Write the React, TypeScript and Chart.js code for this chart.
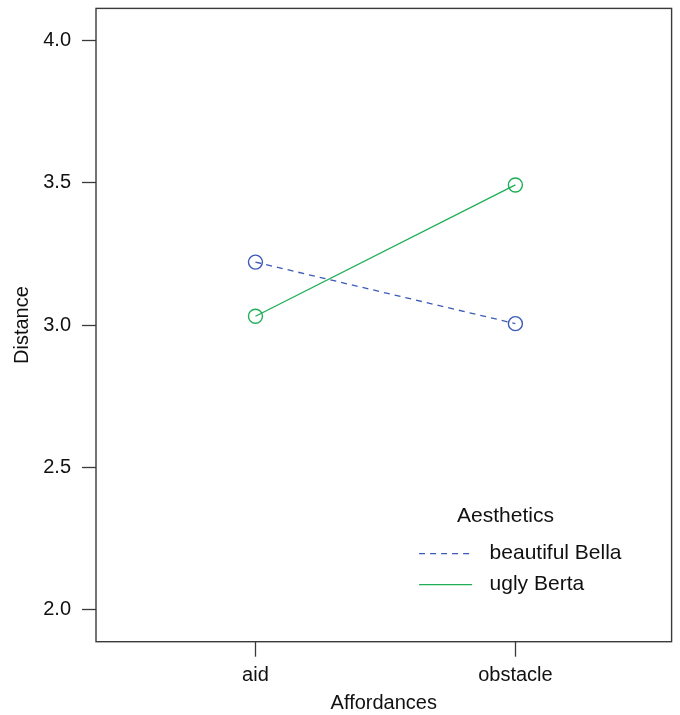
import React, { useEffect, useRef } from "react";
import { Chart, registerables } from "chart.js";

Chart.register(...registerables);

const categories = ["aid", "obstacle"];
const bellaValues = [3.221, 3.005];
const bertaValues = [3.031, 3.492];
const yTicks = [2.0, 2.5, 3.0, 3.5, 4.0];
const seriesNames = ["beautiful Bella", "ugly Berta"];
const legendTitle = "Aesthetics";

const FONT = "'Liberation Sans', Arial, Helvetica, sans-serif";
const BLUE = "#3A5BB8";
const GREEN = "#1EAE55";
const AXIS = "#3a3a3a";

const boxPlugin = {
  id: "boxAndLegend",
  afterDraw(chart: any) {
    const { ctx, chartArea } = chart;
    const { left, top, right, bottom } = chartArea;
    ctx.save();
    ctx.strokeStyle = AXIS;
    ctx.lineWidth = 1.4;
    ctx.strokeRect(left, top, right - left, bottom - top);

    // legend
    ctx.fillStyle = "#111";
    ctx.font = `21px ${FONT}`;
    ctx.textBaseline = "middle";
    ctx.textAlign = "left";
    ctx.fillText(legendTitle, right - 214.5, bottom - 125);
    chart.data.datasets.forEach((ds: any, i: number) => {
      const y = bottom - 88 + i * 31;
      ctx.beginPath();
      ctx.strokeStyle = ds.borderColor;
      ctx.lineWidth = ds.borderWidth;
      ctx.setLineDash(ds.borderDash || []);
      ctx.moveTo(right - 252.5, y);
      ctx.lineTo(right - 199.5, y);
      ctx.stroke();
      ctx.setLineDash([]);
      ctx.fillStyle = "#111";
      ctx.fillText(ds.label, right - 182, y);
    });
    ctx.restore();
  },
};

export default function App() {
  const ref = useRef<HTMLCanvasElement | null>(null);

  useEffect(() => {
    if (!ref.current) return;
    const mk = (vals: number[]) => vals.map((v, i) => ({ x: i + 1, y: v }));
    const chart = new Chart(ref.current, {
      type: "line",
      data: {
        datasets: [
          {
            label: seriesNames[0],
            data: mk(bellaValues),
            borderColor: BLUE,
            borderWidth: 1.3,
            borderDash: [6, 5],
            pointRadius: 7,
            pointBorderWidth: 1.4,
            pointBorderColor: BLUE,
            pointBackgroundColor: "rgba(0,0,0,0)",
            fill: false,
          },
          {
            label: seriesNames[1],
            data: mk(bertaValues),
            borderColor: GREEN,
            borderWidth: 1.3,
            pointRadius: 7,
            pointBorderWidth: 1.4,
            pointBorderColor: GREEN,
            pointBackgroundColor: "rgba(0,0,0,0)",
            fill: false,
          },
        ],
      },
      options: {
        animation: false,
        responsive: false,
        maintainAspectRatio: false,
        layout: { padding: { top: 6, right: 7.5, left: 0, bottom: 0 } },
        plugins: {
          legend: { display: false },
          tooltip: { enabled: false },
        },
        scales: {
          x: {
            type: "linear",
            min: 0.3865,
            max: 2.601,
            afterBuildTicks: (s: any) => {
              s.ticks = categories.map((_, i) => ({ value: i + 1 }));
            },
            afterFit: (s: any) => {
              s.height = 73.3;
              s.paddingLeft = 0;
              s.paddingRight = 0;
              s.paddingTop = 0;
              s.paddingBottom = 0;
            },
            ticks: {
              callback: (v: any) => categories[Math.round(v) - 1] ?? "",
              font: { family: FONT, size: 20 },
              color: "#111",
              padding: 7,
              maxRotation: 0,
              autoSkip: false,
            },
            grid: {
              drawOnChartArea: false,
              drawTicks: true,
              tickLength: 15,
              tickColor: AXIS,
              tickWidth: 1.3,
            },
            border: { display: false },
            title: {
              display: true,
              text: "Affordances",
              font: { family: FONT, size: 20 },
              color: "#111",
              padding: { top: 0, bottom: 0 },
            },
          },
          y: {
            type: "linear",
            min: 1.888,
            max: 4.112,
            afterBuildTicks: (s: any) => {
              s.ticks = yTicks.map((v) => ({ value: v }));
            },
            afterFit: (s: any) => {
              s.width = 96;
              s.paddingTop = 0;
              s.paddingBottom = 0;
              s.paddingLeft = 0;
              s.paddingRight = 0;
            },
            ticks: {
              callback: (v: any) => Number(v).toFixed(1),
              font: { family: FONT, size: 20 },
              color: "#111",
              padding: 11,
            },
            grid: {
              drawOnChartArea: false,
              drawTicks: true,
              tickLength: 14,
              tickColor: AXIS,
              tickWidth: 1.3,
            },
            border: { display: false },
            title: {
              display: true,
              text: "Distance",
              font: { family: FONT, size: 20 },
              color: "#111",
              padding: { top: 10, bottom: 0 },
            },
          },
        },
      },
      plugins: [boxPlugin],
    } as any);
    return () => chart.destroy();
  }, []);

  return (
    <div style={{ position: "fixed", left: 0, top: 0, width: 680, height: 715, background: "#fff" }}>
      <canvas ref={ref} width={680} height={715} style={{ width: 680, height: 715, display: "block" }} />
    </div>
  );
}
